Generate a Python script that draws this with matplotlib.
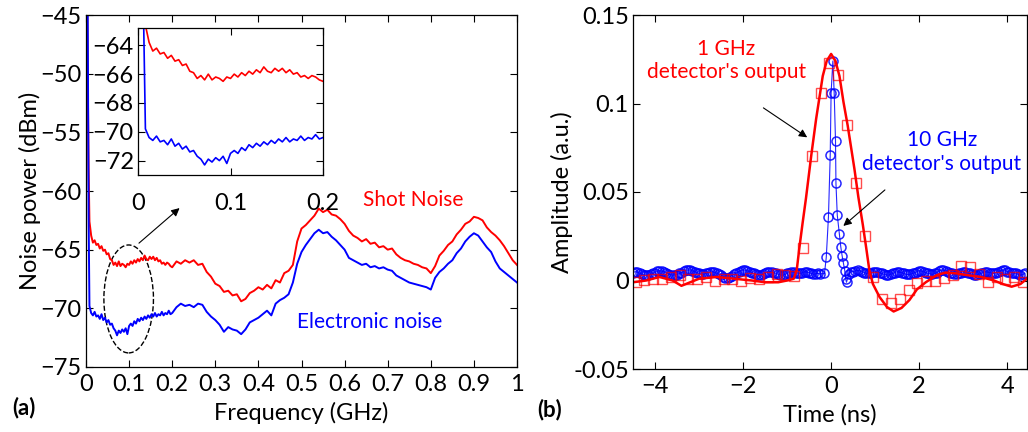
import numpy as np
import matplotlib
matplotlib.use("Agg")
import matplotlib.pyplot as plt
from matplotlib.patches import Ellipse

plt.rcParams["font.family"] = ["Lato", "DejaVu Sans"]

RED = "#ff0000"
BLUE = "#0000ff"
TICK_FS = 17
NOTE_FS = 15

# ---- panel (a): noise spectra ----
freq_lo = [0.000, 0.004, 0.006, 0.008, 0.012, 0.016, 0.020, 0.024, 0.028, 0.032,
           0.036, 0.040, 0.044, 0.048, 0.052, 0.056, 0.060, 0.064, 0.068, 0.072,
           0.076, 0.080, 0.084, 0.088, 0.092, 0.096, 0.100, 0.104, 0.108, 0.112,
           0.116, 0.120, 0.124, 0.128, 0.132, 0.136, 0.140, 0.144, 0.148, 0.152,
           0.156, 0.160, 0.164, 0.168, 0.172, 0.176, 0.180, 0.184, 0.188, 0.192,
           0.196, 0.200]
freq_hi = [0.21, 0.22, 0.23, 0.24, 0.25, 0.26, 0.27, 0.28, 0.29, 0.30,
           0.31, 0.32, 0.33, 0.34, 0.35, 0.36, 0.37, 0.38, 0.39, 0.40,
           0.41, 0.42, 0.43, 0.44, 0.45, 0.46, 0.47, 0.48, 0.49, 0.50,
           0.51, 0.52, 0.53, 0.54, 0.55, 0.56, 0.57, 0.58, 0.59, 0.60,
           0.61, 0.62, 0.63, 0.64, 0.65, 0.66, 0.67, 0.68, 0.69, 0.70,
           0.71, 0.72, 0.73, 0.74, 0.75, 0.76, 0.77, 0.78, 0.79, 0.80,
           0.81, 0.82, 0.83, 0.84, 0.85, 0.86, 0.87, 0.88, 0.89, 0.90,
           0.91, 0.92, 0.93, 0.94, 0.95, 0.96, 0.97, 0.98, 0.99, 1.00]

shot_lo = [-30.0, -50.0, -58.0, -62.6, -63.8, -64.4, -64.2, -64.6, -64.5, -64.9,
           -64.7, -65.1, -65.0, -65.4, -65.3, -65.8, -65.9, -66.3, -66.1, -66.4,
           -66.0, -66.4, -66.2, -66.3, -66.5, -66.2, -66.3, -66.0, -66.2, -65.9,
           -66.1, -65.8, -66.0, -65.7, -65.9, -65.5, -65.8, -65.9, -65.6, -65.8,
           -65.6, -65.9, -65.7, -66.0, -65.9, -66.2, -66.1, -66.3, -66.1, -66.2,
           -66.4, -66.5]
shot_hi = [-66.0, -66.2, -65.9, -66.1, -65.9, -66.3, -66.2, -66.9, -67.3, -67.9,
           -68.1, -68.6, -68.5, -68.9, -68.8, -69.4, -69.2, -68.7, -68.5, -68.2,
           -68.4, -68.0, -68.3, -67.6, -67.8, -67.0, -66.8, -66.3, -64.3, -63.2,
           -62.9, -62.5, -62.1, -61.5, -61.8, -61.6, -62.0, -62.1, -62.4, -62.8,
           -63.4, -63.8, -64.0, -64.3, -64.1, -64.5, -64.4, -64.8, -64.7, -65.0,
           -64.9, -65.4, -65.7, -65.9, -66.0, -66.2, -66.3, -66.5, -66.6, -67.0,
           -66.4, -65.5, -65.1, -64.6, -64.3, -63.7, -63.3, -62.8, -62.6, -62.2,
           -62.3, -62.5, -63.1, -63.5, -63.8, -64.2, -64.7, -65.3, -65.9, -66.3]

elec_lo = [-30.0, -45.0, -62.0, -69.8, -70.4, -70.6, -70.3, -70.7, -70.6, -70.9,
           -70.5, -71.0, -70.8, -71.2, -71.0, -71.4, -71.3, -71.7, -71.9, -72.3,
           -71.9, -72.1, -71.8, -72.0, -71.7, -72.2, -71.5, -71.3, -71.5, -71.1,
           -71.3, -70.9, -71.1, -70.8, -71.0, -70.7, -70.9, -70.6, -70.8, -70.5,
           -70.7, -70.4, -70.7, -70.5, -70.6, -70.3, -70.6, -70.4, -70.5, -70.2,
           -70.5, -70.4]
elec_hi = [-69.9, -69.6, -69.8, -69.7, -69.9, -69.6, -69.7, -70.3, -70.7, -71.0,
           -71.4, -72.0, -71.6, -71.8, -71.9, -72.2, -71.8, -71.2, -71.0, -70.8,
           -70.5, -70.2, -70.6, -69.6, -69.3, -69.1, -68.8, -67.8, -66.2, -65.2,
           -64.6, -64.1, -63.6, -63.3, -63.6, -63.5, -63.9, -64.2, -64.6, -65.0,
           -65.7, -65.9, -66.1, -66.3, -66.2, -66.5, -66.4, -66.6, -66.5, -66.7,
           -66.8, -67.2, -67.4, -67.6, -67.8, -67.9, -68.0, -68.1, -68.2, -68.4,
           -67.4, -66.9, -66.6, -66.2, -65.9, -65.3, -64.9, -64.3, -63.9, -63.6,
           -63.8, -64.3, -64.8, -65.2, -66.0, -66.6, -66.9, -67.2, -67.5, -67.8]

freq = np.array(freq_lo + freq_hi)
shot = np.array(shot_lo + shot_hi)
elec = np.array(elec_lo + elec_hi)

# ---- panel (b): detector pulses ----
fit_1g_t = [-4.5, -4.2, -3.9, -3.6, -3.4, -3.2, -3.0, -2.6, -2.2, -1.8, -1.5, -1.2,
            -1.0, -0.85, -0.78, -0.72, -0.65, -0.57, -0.45, -0.34, -0.19, -0.1, 0.0,
            0.1, 0.19, 0.28, 0.377, 0.53, 0.62, 0.72, 0.8, 0.87, 0.95, 1.1, 1.27,
            1.42, 1.6, 1.78, 1.95, 2.15, 2.4, 2.6, 2.85, 3.1, 3.4, 3.7, 3.9, 4.1,
            4.3, 4.45]
fit_1g = [-0.001, 0.000, 0.002, 0.000, -0.003, -0.001, 0.001, 0.002, 0.001, 0.000,
          -0.001, -0.001, 0.000, 0.001, 0.006, 0.0186, 0.032, 0.0466, 0.0708, 0.0913,
          0.1155, 0.124, 0.128, 0.124, 0.1155, 0.101, 0.0875, 0.063, 0.047, 0.0316,
          0.018, 0.0056, -0.002, -0.0093, -0.015, -0.0175, -0.0155, -0.011, -0.005,
          -0.001, 0.003, 0.0045, 0.004, 0.003, 0.002, 0.000, -0.002, -0.0035,
          -0.002, 0.001]

sq_1g = [-0.001, 0.0003, 0.0009, 0.0009, 0.0018, 0.0033, 0.0009, 0.0009, 0.0022,
         -0.0004, 0.0009, 0.0009, 0.0, 0.0015, 0.0009, 0.0022, 0.0037, 0.0031,
         0.0026, 0.0182, 0.0702, 0.1058, 0.123, 0.1163, 0.0881, 0.0553, 0.0249,
         0.0018, -0.0103, -0.0127, -0.0103, -0.0056, -0.0015, 0.0, -0.0004, 0.0013,
         0.0031, 0.0084, 0.0074, 0.0037, -0.001, 0.0022, 0.0009, 0.0018, -0.001]
sq_1g_t = np.round(np.arange(len(sq_1g)) * 0.2 - 4.44, 2)

base_10g_left = [0.0045, 0.0050, 0.0047, 0.0042, 0.0035, 0.0032, 0.0030, 0.0033,
                 0.0035, 0.0040, 0.0045, 0.0052, 0.0055, 0.0053, 0.0050, 0.0044,
                 0.0038, 0.0032, 0.0030, 0.0031, 0.0033, 0.0040, 0.0045, 0.0052,
                 0.0058, 0.0060, 0.0060, 0.0055, 0.0050, 0.0045, 0.0040, 0.0037,
                 0.0035, 0.0040, 0.0045, 0.0048, 0.0050, 0.0046, 0.0042, 0.0036,
                 0.0030, 0.0022, 0.0015, 0.0014, 0.0020, 0.0028, 0.0035, 0.0043,
                 0.0050, 0.0056, 0.0060, 0.0058, 0.0055, 0.0050, 0.0045, 0.0040,
                 0.0035, 0.0032, 0.0030, 0.0034, 0.0040, 0.0046, 0.0050, 0.0048,
                 0.0045, 0.0040, 0.0035, 0.0032, 0.0030, 0.0034, 0.0040, 0.0045,
                 0.0050, 0.0047, 0.0045, 0.0042, 0.0040, 0.0044, 0.0050, 0.0048,
                 0.0045, 0.0040, 0.0035, 0.0038, 0.0040, 0.0037]
base_10g_left_t = np.round(np.arange(len(base_10g_left)) * 0.05 - 4.5, 2)

peak_10g_t = [-0.15, -0.11, -0.06, -0.02, 0.00, 0.04, 0.07, 0.10, 0.11, 0.14,
              0.19, 0.22, 0.25, 0.28, 0.31, 0.33, 0.35, 0.40, 0.45]
peak_10g = [0.004, 0.013, 0.036, 0.071, 0.106, 0.124, 0.106, 0.079, 0.055, 0.037,
            0.026, 0.019, 0.014, 0.0098, 0.0056, 0.001, -0.001, 0.0037, 0.005]

base_10g_right = [0.0050, 0.0055, 0.0057, 0.0055, 0.0050, 0.0045, 0.0040, 0.0042,
                  0.0045, 0.0048, 0.0050, 0.0047, 0.0045, 0.0040, 0.0035, 0.0032,
                  0.0030, 0.0035, 0.0040, 0.0045, 0.0050, 0.0047, 0.0045, 0.0040,
                  0.0035, 0.0034, 0.0035, 0.0040, 0.0045, 0.0050, 0.0055, 0.0053,
                  0.0050, 0.0045, 0.0040, 0.0038, 0.0035, 0.0040, 0.0045, 0.0052,
                  0.0060, 0.0058, 0.0055, 0.0050, 0.0045, 0.0040, 0.0035, 0.0037,
                  0.0040, 0.0045, 0.0050, 0.0048, 0.0045, 0.0040, 0.0035, 0.0032,
                  0.0030, 0.0035, 0.0040, 0.0045, 0.0050, 0.0048, 0.0045, 0.0042,
                  0.0040, 0.0045, 0.0050, 0.0055, 0.0060, 0.0058, 0.0050, 0.0047,
                  0.0045, 0.0042, 0.0040, 0.0035, 0.0030, 0.0034, 0.0040]
base_10g_right_t = np.round(np.arange(len(base_10g_right)) * 0.05 + 0.5, 2)

t_10g = np.concatenate([base_10g_left_t, peak_10g_t, base_10g_right_t])
y_10g = np.concatenate([base_10g_left, peak_10g, base_10g_right])

W, H = 1028, 432
fig = plt.figure(figsize=(W / 100, H / 100), dpi=100)


def box(l, r, t, b):
    return [l / W, (H - b) / H, (r - l) / W, (b - t) / H]


def matlab_ticks(ax, size=TICK_FS):
    ax.tick_params(direction="in", top=True, right=True, length=5, width=0.8,
                   labelsize=size)
    for s in ax.spines.values():
        s.set_linewidth(0.9)


# (a)
ax1 = fig.add_axes(box(86, 517, 15, 367))
ax1.plot(freq, shot, color=RED, lw=1.4)
ax1.plot(freq, elec, color=BLUE, lw=1.4)
ax1.set_xlim(0, 1)
ax1.set_ylim(-75, -45)
ax1.set_xticks(np.round(np.arange(0, 1.01, 0.1), 1))
ax1.set_xticklabels(["0"] + [f"{v:.1f}" for v in np.arange(0.1, 0.95, 0.1)] + ["1"])
ax1.set_yticks(range(-75, -44, 5))
matlab_ticks(ax1)
ax1.tick_params(axis="y", pad=3)
ax1.tick_params(axis="x", pad=5)
ax1.set_xlabel("Frequency (GHz)", fontsize=TICK_FS, labelpad=5)
ax1.set_ylabel("Noise power (dBm)", fontsize=TICK_FS, labelpad=0)
ax1.add_patch(Ellipse((0.099, -69.2), 0.115, 9.2, fill=False, ls="--",
                      lw=1.0, color="black"))
ax1.annotate("", xy=(0.222, -61.3), xytext=(0.118, -64.6),
             arrowprops=dict(arrowstyle="-|>", color="black", lw=0.8,
                             mutation_scale=12))
ax1.text(0.758, -60.8, "Shot Noise", color=RED, fontsize=NOTE_FS,
         ha="center", va="center")
ax1.text(0.657, -71.15, "Electronic noise", color=BLUE, fontsize=NOTE_FS,
         ha="center", va="center")

# inset
axi = fig.add_axes(box(138, 323, 28, 175))
axi.plot(freq, shot, color=RED, lw=1.2)
axi.plot(freq, elec, color=BLUE, lw=1.2)
axi.set_xlim(0, 0.2)
axi.set_ylim(-73, -62.8)
axi.set_xticks([0, 0.1, 0.2])
axi.set_xticklabels(["0", "0.1", "0.2"])
axi.set_yticks([-72, -70, -68, -66, -64])
matlab_ticks(axi)
axi.tick_params(axis="x", pad=13)
axi.tick_params(axis="y", pad=3)

# (b)
ax2 = fig.add_axes(box(633, 1027, 15, 369))
ax2.plot(t_10g, y_10g, color=BLUE, lw=0.8, alpha=0.85, marker="o", ms=6.5,
         mfc="none", mec=BLUE, mew=1.1)
ax2.plot(fit_1g_t, fit_1g, color=RED, lw=1.8)
ax2.plot(sq_1g_t, sq_1g, ls="none", marker="s", ms=6.5, mfc="none",
         mec=RED, mew=1.0, alpha=0.7)
ax2.set_xlim(-4.5, 4.45)
ax2.set_ylim(-0.05, 0.15)
ax2.set_xticks([-4, -2, 0, 2, 4])
ax2.set_yticks([-0.05, 0, 0.05, 0.1, 0.15])
ax2.set_yticklabels(["-0.05", "0", "0.05", "0.1", "0.15"])
matlab_ticks(ax2)
ax2.tick_params(axis="y", pad=3)
ax2.tick_params(axis="x", pad=5)
ax2.set_xlabel("Time (ns)", fontsize=TICK_FS, labelpad=5)
ax2.set_ylabel("Amplitude (a.u.)", fontsize=TICK_FS, labelpad=0)
ax2.text(-2.38, 0.1245, "1 GHz\ndetector's output", color=RED, fontsize=NOTE_FS,
         ha="center", va="center", linespacing=1.2)
ax2.annotate("", xy=(-0.49, 0.080), xytext=(-1.59, 0.0984),
             arrowprops=dict(arrowstyle="-|>", color="black", lw=0.8,
                             mutation_scale=12))
ax2.text(2.52, 0.0726, "10 GHz\ndetector's output", color=BLUE, fontsize=NOTE_FS,
         ha="center", va="center", linespacing=1.2)
ax2.annotate("", xy=(0.23, 0.0298), xytext=(1.27, 0.0522),
             arrowprops=dict(arrowstyle="-|>", color="black", lw=0.8,
                             mutation_scale=12))

fig.text(24 / W, 1 - 408 / H, "(a)", fontsize=16, fontweight="bold",
         ha="center", va="center")
fig.text(550 / W, 1 - 410 / H, "(b)", fontsize=16, fontweight="bold",
         ha="center", va="center")

fig.savefig("out.png", dpi=100)
